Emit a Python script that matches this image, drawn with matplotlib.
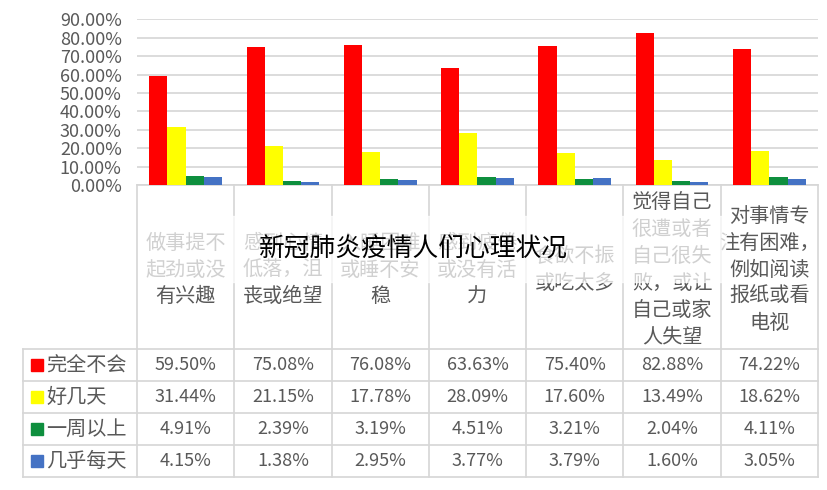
import matplotlib
matplotlib.use('Agg')
import matplotlib.pyplot as plt
from matplotlib.patches import Rectangle
from matplotlib.transforms import blended_transform_factory
from matplotlib.ticker import FuncFormatter
import numpy as np

plt.rcParams['font.family'] = ['Noto Sans CJK SC', 'DejaVu Sans']

title = '新冠肺炎疫情人们心理状况'
categories = ['做事提不\n起劲或没\n有兴趣', '感到心情\n低落，沮\n丧或绝望', '入睡困难\n或睡不安\n稳',
              '感到疲倦\n或没有活\n力', '食欲不振\n或吃太多',
              '觉得自己\n很遭或者\n自己很失\n败，或让\n自己或家\n人失望',
              '对事情专\n注有困难，\n例如阅读\n报纸或看\n电视']
series_names = ['完全不会', '好几天', '一周以上', '几乎每天']
never = [59.50, 75.08, 76.08, 63.63, 75.40, 82.88, 74.22]
several_days = [31.44, 21.15, 17.78, 28.09, 17.60, 13.49, 18.62]
over_week = [4.91, 2.39, 3.19, 4.51, 3.21, 2.04, 4.11]
nearly_daily = [4.15, 1.38, 2.95, 3.77, 3.79, 1.60, 3.05]
yticks = [0, 10, 20, 30, 40, 50, 60, 70, 80, 90]

series = [never, several_days, over_week, nearly_daily]
colors = ['#FF0000', '#FFFF00', '#0E8F3E', '#4472C4']
grid_c = '#D6D6D6'
text_c = '#595959'

W, H = 828, 490
fig = plt.figure(figsize=(W / 100, H / 100), dpi=100)

# chart area in pixels
x0, x1 = 137, 818
y_top, y_base = 19.5, 185
ax = fig.add_axes([x0 / W, 1 - y_base / H, (x1 - x0) / W, (y_base - y_top) / H])

n = len(categories)
x = np.arange(n)
bw = 0.187
for i, (vals, c) in enumerate(zip(series, colors)):
    ax.bar(x + (i - 1.5) * bw, np.array(vals) / 100, bw, color=c, zorder=3)

ax.set_xlim(-0.5, n - 0.5)
ax.set_ylim(0, 0.9)
ax.set_yticks(np.array(yticks) / 100)
ax.yaxis.set_major_formatter(FuncFormatter(lambda v, p: f'{v:.2%}'))
ax.tick_params(axis='y', length=0, pad=11, labelsize=13, labelcolor=text_c)
ax.set_xticks([])
ax.grid(axis='y', color=grid_c, linewidth=1.2, zorder=0)
for s in ['left', 'right', 'top']:
    ax.spines[s].set_visible(False)
ax.spines['bottom'].set_color(grid_c)
ax.spines['bottom'].set_linewidth(1.2)

# overlay in pixel coords for the data table
ov = fig.add_axes([0, 0, 1, 1])
ov.set_xlim(0, W)
ov.set_ylim(H, 0)
ov.axis('off')
ov.patch.set_visible(False)
tr = blended_transform_factory(ax.transData, ov.transData)

tab_top, row_h = 349, 32
tab_left = 23
tab_bottom = tab_top + row_h * len(series)

# column boundaries
for b in np.arange(n + 1) - 0.5:
    ov.plot([b, b], [y_base, tab_bottom], color=grid_c, lw=1.2, transform=tr)
ov.plot([tab_left, tab_left], [tab_top, tab_bottom], color=grid_c, lw=1.2)
for r in range(len(series) + 1):
    yy = tab_top + r * row_h
    ov.plot([tab_left, x1], [yy, yy], color=grid_c, lw=1.2)

# category header labels
head_c = (y_base + tab_top) / 2
for i, cat in enumerate(categories):
    ov.text(i, head_c + 3, cat, transform=tr, ha='center', va='center',
            fontsize=14.5, color=text_c, linespacing=1.37, zorder=3)

# table rows
for r, (name, vals, c) in enumerate(zip(series_names, series, colors)):
    yc = tab_top + (r + 0.5) * row_h
    ov.add_patch(Rectangle((31, yc - 6), 12, 12, color=c))
    ov.text(46, yc, name, ha='left', va='center', fontsize=14.5, color=text_c)
    for i, v in enumerate(vals):
        ov.text(i, yc, f'{v:.2f}%', transform=tr, ha='center', va='center',
                fontsize=13, color=text_c)

# title with its faded backdrop
ov.add_patch(Rectangle((140, 216), 585, 66, color='white', alpha=0.72, zorder=4))
ov.text(413, 250, title, ha='center', va='center', fontsize=18.5,
        fontweight='light', color='black', zorder=5)

fig.savefig('out.png', dpi=100)
